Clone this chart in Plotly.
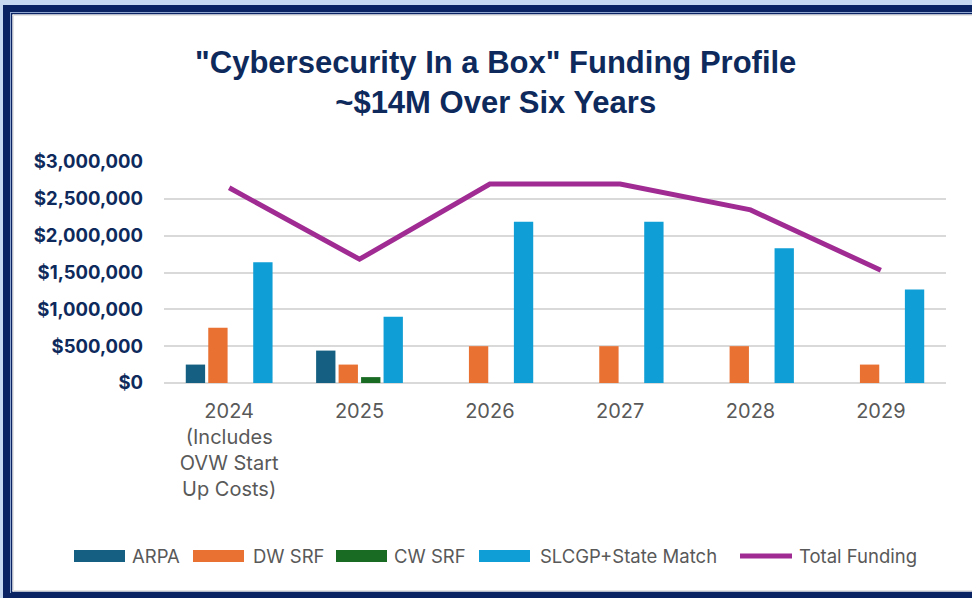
import plotly.graph_objects as go

W, H = 972, 598
ML, MR, MT, MB = 164, 26, 162, 215

categories = ["2024<br>(Includes<br>OVW Start<br>Up Costs)", "2025", "2026", "2027", "2028", "2029"]
arpa = [250000, 440000, 0, 0, 0, 0]
dw_srf = [750000, 250000, 500000, 500000, 500000, 250000]
cw_srf = [0, 80000, 0, 0, 0, 0]
slcgp = [1640000, 900000, 2190000, 2190000, 1830000, 1270000]
total = [2650000, 1680000, 2700000, 2700000, 2350000, 1530000]

y_ticks = [0, 500000, 1000000, 1500000, 2000000, 2500000, 3000000]
y_ticktext = ["$0", "$500,000", "$1,000,000", "$1,500,000", "$2,000,000", "$2,500,000", "$3,000,000"]

bar_series = [
    ("ARPA", arpa, "#156082"),
    ("DW SRF", dw_srf, "#E97132"),
    ("CW SRF", cw_srf, "#196B24"),
    ("SLCGP+State Match", slcgp, "#0F9ED5"),
]
line_name, line_color = "Total Funding", "#A02B93"

FONT = "Inter"
NAVY = "#0E2A5C"
GRAY = "#595959"

fig = go.Figure()
for name, vals, color in bar_series:
    fig.add_trace(go.Bar(x=categories, y=vals, name=name,
                         marker=dict(color=color, line=dict(width=0))))
fig.add_trace(go.Scatter(x=categories, y=total, name=line_name, mode="lines",
                         line=dict(color=line_color, width=5)))


def px_x(p):
    return (p - ML) / (W - ML - MR)


def px_y(p):
    return 1 - (p - MT) / (H - MT - MB)


shapes = []
annotations = []


def rect(x0, y0, x1, y1, color):
    shapes.append(dict(type="rect", xref="paper", yref="paper",
                       x0=px_x(x0), x1=px_x(x1), y0=px_y(y1), y1=px_y(y0),
                       fillcolor=color, line=dict(width=0), layer="above"))


LIGHT = "#C6D9F0"
DARK = "#0A2463"
# outer light background strip
rect(0, 0, W, 5, LIGHT)
rect(0, 0, 3, H, LIGHT)
# thick navy frame
rect(3, 5, W, 12, DARK)
rect(3, 5, 10, H, DARK)
rect(3, 593, W, H, DARK)
# thin light stripe + thin navy line
rect(10, 12, W, 13, "#8EA6D0")
rect(10, 12, 11, 593, "#8EA6D0")
rect(11, 13, W, 14.5, DARK)
rect(11, 13, 12.5, 593, DARK)
rect(11, 591.5, W, 593, DARK)
# light gray shadow
rect(12.5, 14.5, W, 16, "#E4E4E4")
rect(12.5, 14.5, 14, 591.5, "#E4E4E4")
rect(12.5, 590, W, 591.5, "#E4E4E4")

# custom legend (wide swatches as in the original)
LEG_Y = 556
leg_swatch_x = [74, 193, 336, 479]
leg_text_x = [130, 251, 392, 538]
for (name, _, color), sx, tx in zip(bar_series, leg_swatch_x, leg_text_x):
    rect(sx, LEG_Y - 6, sx + 51, LEG_Y + 6, color)
    annotations.append(dict(text=name, xref="paper", yref="paper", x=px_x(tx), y=px_y(LEG_Y),
                            xanchor="left", yanchor="middle", showarrow=False,
                            font=dict(family=FONT, size=18.5, color=GRAY)))
shapes.append(dict(type="line", xref="paper", yref="paper", x0=px_x(740), x1=px_x(792),
                   y0=px_y(LEG_Y), y1=px_y(LEG_Y), line=dict(color=line_color, width=5), layer="above"))
annotations.append(dict(text=line_name, xref="paper", yref="paper", x=px_x(797), y=px_y(LEG_Y),
                        xanchor="left", yanchor="middle", showarrow=False,
                        font=dict(family=FONT, size=18.5, color=GRAY)))

fig.update_layout(
    width=W, height=H,
    margin=dict(l=ML, r=MR, t=MT, b=MB, pad=0),
    paper_bgcolor="white", plot_bgcolor="white",
    title=dict(text='"Cybersecurity In a Box" Funding Profile<br>~$14M Over Six Years',
               x=0.51, xanchor="center", y=1 - 73 / H, yanchor="middle", yref="container",
               font=dict(family="Liberation Sans", size=31, color=NAVY, weight="bold")),
    barmode="group", bargap=0.31, bargroupgap=0.14,
    showlegend=False,
    xaxis=dict(tickfont=dict(family=FONT, size=20, color=GRAY), showgrid=False,
               showline=False, ticks="", ticklabelstandoff=14),
    yaxis=dict(range=[0, 3000000], tickvals=y_ticks, ticktext=y_ticktext,
               tickfont=dict(family=FONT, size=18.5, color=NAVY, weight="bold"),
               showgrid=True, gridcolor="#D9D9D9", gridwidth=2,
               zeroline=True, zerolinecolor="#D9D9D9", zerolinewidth=2,
               showline=False, ticks="", ticklabelstandoff=20),
    shapes=shapes,
    annotations=annotations,
)

fig.write_html("out.html")
